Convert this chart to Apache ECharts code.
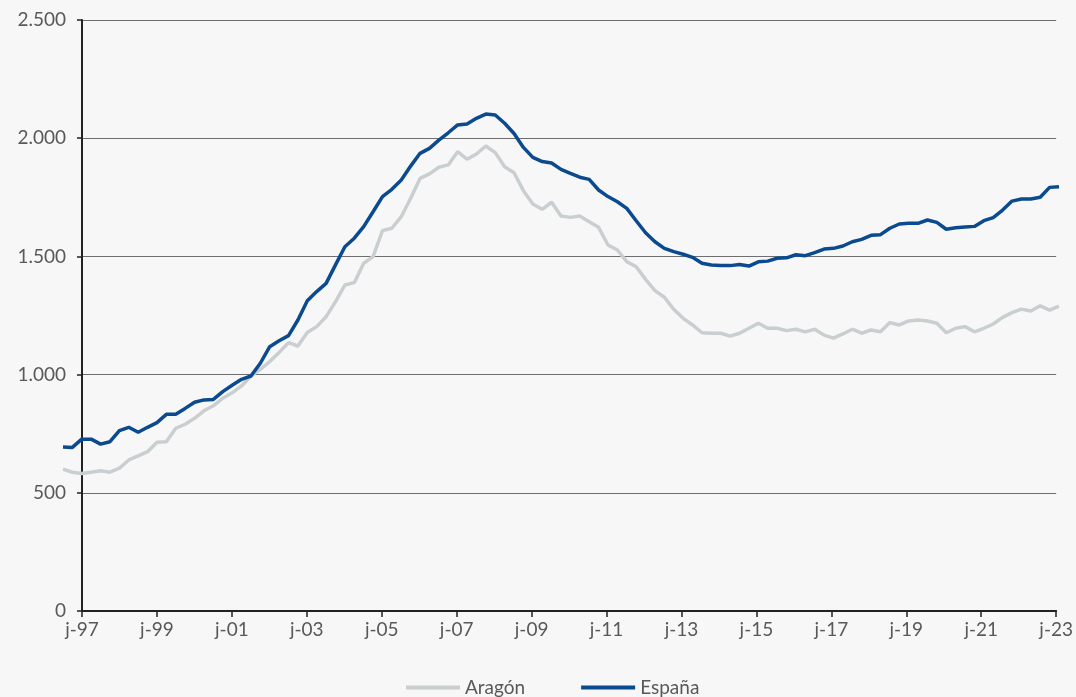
<!DOCTYPE html>
<html>
<head>
<meta charset="utf-8">
<script src="https://cdn.jsdelivr.net/npm/echarts@6/dist/echarts.min.js"></script>
<style>
  html, body { margin: 0; padding: 0; background: #f7f7f7; }
  #main { width: 1076px; height: 697px; }
</style>
</head>
<body>
<div id="main"></div>
<script>
// quarterly series, dic-96 .. jun-23 (107 quarters)
let aragon = [
  600, 587, 582, 587, 593, 587, 604, 639, 656, 674,
  714, 716, 773, 790, 815, 847, 868, 900, 923, 952,
  994, 1022, 1055, 1094, 1135, 1121, 1178, 1203, 1245, 1308,
  1379, 1389, 1471, 1499, 1609, 1619, 1668, 1746, 1830, 1849,
  1877, 1887, 1943, 1911, 1933, 1967, 1939, 1879, 1854, 1778,
  1722, 1699, 1729, 1671, 1665, 1671, 1647, 1623, 1548, 1527,
  1478, 1456, 1403, 1355, 1327, 1276, 1238, 1210, 1177, 1175,
  1175, 1163, 1175, 1196, 1217, 1196, 1196, 1186, 1192, 1181,
  1192, 1167, 1154, 1172, 1192, 1175, 1189, 1181, 1220, 1210,
  1227, 1231, 1227, 1217, 1177, 1196, 1203, 1181, 1196, 1214,
  1242, 1262, 1277, 1269, 1291, 1273, 1290
];
let espana = [
  694, 692, 727, 727, 706, 716, 763, 777, 756, 777,
  797, 832, 832, 857, 883, 893, 895, 928, 955, 980,
  994, 1048, 1118, 1143, 1165, 1231, 1312, 1351, 1386, 1464,
  1541, 1577, 1626, 1689, 1753, 1784, 1823, 1882, 1936, 1957,
  1992, 2023, 2056, 2060, 2084, 2102, 2098, 2063, 2020, 1961,
  1919, 1901, 1895, 1868, 1851, 1835, 1826, 1781, 1753, 1731,
  1703, 1651, 1600, 1562, 1534, 1520, 1509, 1496, 1471, 1464,
  1462, 1461, 1466, 1459, 1477, 1480, 1492, 1494, 1507, 1503,
  1516, 1531, 1534, 1544, 1562, 1572, 1589, 1592, 1619, 1637,
  1640, 1640, 1654, 1644, 1615, 1621, 1624, 1627, 1651, 1664,
  1696, 1734, 1743, 1743, 1750, 1792, 1795
];
// x ticks every 8 quarters starting at jun-97
let xTickLabels = ["j-97", "j-99", "j-01", "j-03", "j-05", "j-07", "j-09",
  "j-11", "j-13", "j-15", "j-17", "j-19", "j-21", "j-23"];
let firstOffset = -2; // first quarter sits two quarters before jun-97

let chart = echarts.init(document.getElementById("main"));
let font = "Lato, 'Noto Sans', sans-serif";
let labelColor = "#595959";

function toPoints(arr) {
  return arr.map((v, i) => [i + firstOffset, v]);
}

let option = {
  backgroundColor: "#f7f7f7",
  animation: false,
  // grid 0 carries the visible axes, grid 1 (two quarters wider on the left) the lines
  grid: [
    { left: 82, right: 17, top: 20, bottom: 86 },
    { left: 63, right: 17, top: 20, bottom: 86 }
  ],
  legend: {
    left: 401,
    top: 673,
    icon: "rect",
    itemWidth: 54,
    itemHeight: 4,
    itemGap: 56,
    textStyle: { fontFamily: font, fontSize: 19, color: labelColor, padding: [3, 0, 0, 0] },
    data: ["Aragón", "España"]
  },
  xAxis: [
    {
      type: "value",
      gridIndex: 0,
      min: 0,
      max: 104,
      interval: 8,
      axisLine: { show: true, lineStyle: { color: "#222", width: 2 } },
      axisTick: { show: true, length: 6, lineStyle: { color: "#222", width: 1.5 } },
      axisLabel: {
        margin: 9,
        fontFamily: font,
        fontSize: 19,
        color: labelColor,
        formatter: function (v) { return xTickLabels[v / 8]; }
      },
      splitLine: { show: false }
    },
    {
      type: "value",
      gridIndex: 1,
      min: -2,
      max: 104,
      show: false
    }
  ],
  yAxis: [
    {
      type: "value",
      gridIndex: 0,
      min: 0,
      max: 2500,
      interval: 500,
      axisLine: { show: true, lineStyle: { color: "#222", width: 2 } },
      axisTick: { show: true, length: 5, lineStyle: { color: "#222", width: 1.5 } },
      axisLabel: {
        margin: 16,
        fontFamily: font,
        fontSize: 19,
        color: labelColor,
        formatter: function (v) {
          return v.toString().replace(/\B(?=(\d{3})+(?!\d))/g, ".");
        }
      },
      splitLine: { show: true, lineStyle: { color: "#6e6e6e", width: 1.2 } }
    },
    {
      type: "value",
      gridIndex: 1,
      min: 0,
      max: 2500,
      show: false
    }
  ],
  series: [
    {
      name: "Aragón",
      type: "line",
      xAxisIndex: 1,
      yAxisIndex: 1,
      symbol: "none",
      data: toPoints(aragon),
      itemStyle: { color: "#c9cfd1" },
      lineStyle: { color: "#c9cfd1", width: 3.5 }
    },
    {
      name: "España",
      type: "line",
      xAxisIndex: 1,
      yAxisIndex: 1,
      symbol: "none",
      data: toPoints(espana),
      itemStyle: { color: "#0b4a8f" },
      lineStyle: { color: "#0b4a8f", width: 3.5 }
    }
  ]
};

option && chart.setOption(option);
</script>
</body>
</html>
